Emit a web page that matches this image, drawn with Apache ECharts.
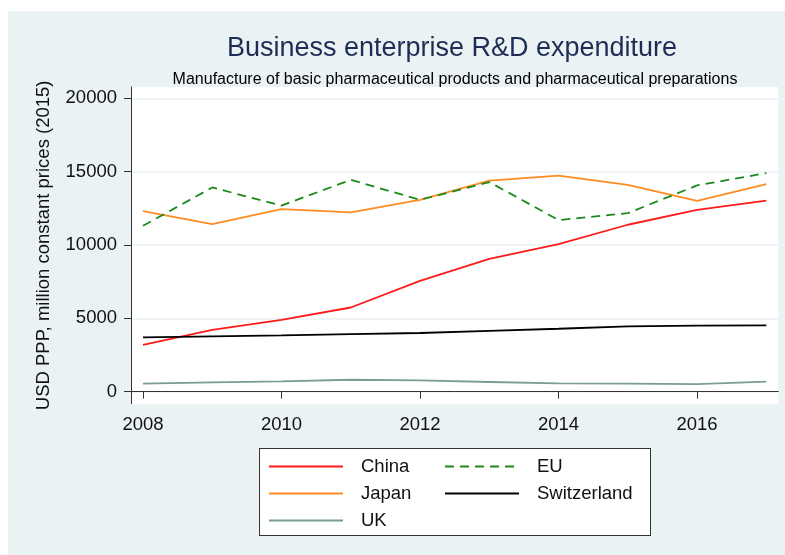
<!DOCTYPE html>
<html>
<head>
<meta charset="utf-8">
<script src="https://cdn.jsdelivr.net/npm/echarts@6/dist/echarts.min.js"></script>
<style>
html,body{margin:0;padding:0;background:#fff;}
#wrap{position:relative;width:785px;height:555px;overflow:hidden;}
#bg{position:absolute;left:8px;top:11px;width:777px;height:544px;background:#eaf2f3;}
#legbox{position:absolute;left:259px;top:448px;width:390px;height:86px;background:#fff;border:1px solid #333;}
#chart{position:absolute;left:0;top:0;width:785px;height:555px;}
</style>
</head>
<body>
<div id="wrap"><div id="bg"></div><div id="legbox"></div><div id="chart"></div></div>
<script>
const years = [2008, 2009, 2010, 2011, 2012, 2013, 2014, 2015, 2016, 2017];
const china = [3200, 4220, 4900, 5740, 7560, 9060, 10060, 11380, 12400, 13030];
const japan = [12310, 11420, 12440, 12220, 13080, 14390, 14730, 14100, 13010, 14150];
const eu = [11310, 13920, 12690, 14440, 13080, 14290, 11700, 12170, 14060, 14900];
const switzerland = [3700, 3770, 3840, 3930, 4000, 4150, 4290, 4450, 4500, 4520];
const uk = [545, 635, 700, 815, 770, 660, 565, 545, 520, 680];
const xTicks = [2008, 2010, 2012, 2014, 2016];
const yTicks = [0, 5000, 10000, 15000, 20000];

const FONT = 'Liberation Sans, Arial, sans-serif';
function pairs(arr){ return years.map((y,i)=>[y, arr[i]]); }
function mk(name, arr, color, dashed){
  return {
    name, type:'line', data: pairs(arr), symbol:'none', showSymbol:false,
    lineStyle:{color, width:1.8, type: dashed ? [9,6] : 'solid'},
    itemStyle:{color}, emphasis:{disabled:true}, animation:false
  };
}
const legendCommon = {
  orient:'vertical', top:457, padding:0,
  itemWidth:74, itemHeight:16, itemGap:8,
  itemStyle:{opacity:0, borderWidth:0},
  textStyle:{fontFamily:FONT, fontSize:18.5, color:'#111', padding:[0,0,0,13], lineHeight:16}
};
const chart = echarts.init(document.getElementById('chart'));
chart.setOption({
  animation:false,
  title:[
    {text:'Business enterprise R&D expenditure', left:447, top:30, textAlign:'center',
     textStyle:{fontFamily:FONT, fontSize:27, fontWeight:'normal', color:'#1e2d55'}},
    {text:'Manufacture of basic pharmaceutical products and pharmaceutical preparations', left:450, top:67, textAlign:'center',
     textStyle:{fontFamily:FONT, fontSize:16, fontWeight:'normal', color:'#000'}}
  ],
  grid:{left:131, top:87, right:6.7, bottom:151.3, show:true, backgroundColor:'#fff', borderWidth:0},
  xAxis:{
    type:'value', min:2007.827, max:2017.173,
    axisLine:{show:true, lineStyle:{color:'#333', width:1}},
    axisTick:{show:true, length:7, customValues:xTicks, lineStyle:{color:'#333'}},
    axisLabel:{customValues:xTicks, formatter:v=>String(v), fontFamily:FONT, fontSize:18.5, color:'#111', margin:12},
    splitLine:{show:false}
  },
  yAxis:{
    type:'value', min:-818, max:20770,
    name:'USD PPP, million constant prices (2015)', nameLocation:'middle', nameRotate:90, nameGap:78,
    nameTextStyle:{fontFamily:FONT, fontSize:18.5, color:'#111'},
    axisLine:{show:true, lineStyle:{color:'#333', width:1}},
    axisTick:{show:true, length:7, customValues:yTicks, lineStyle:{color:'#333'}},
    axisLabel:{customValues:yTicks, formatter:v=>String(v), fontFamily:FONT, fontSize:18.5, color:'#111', margin:14},
    splitLine:{show:true, lineStyle:{color:'#eaf2f3', width:1.5}}
  },
  legend:[
    Object.assign({data:['China','Japan','UK'], left:268}, legendCommon),
    Object.assign({data:['EU','Switzerland'], left:444}, legendCommon)
  ],
  series:[
    mk('China', china, '#ff1a1a', false),
    mk('Japan', japan, '#ff8c22', false),
    mk('UK', uk, '#7a9d92', false),
    mk('EU', eu, '#1a8a1a', true),
    mk('Switzerland', switzerland, '#000000', false)
  ]
});
</script>
</body>
</html>
